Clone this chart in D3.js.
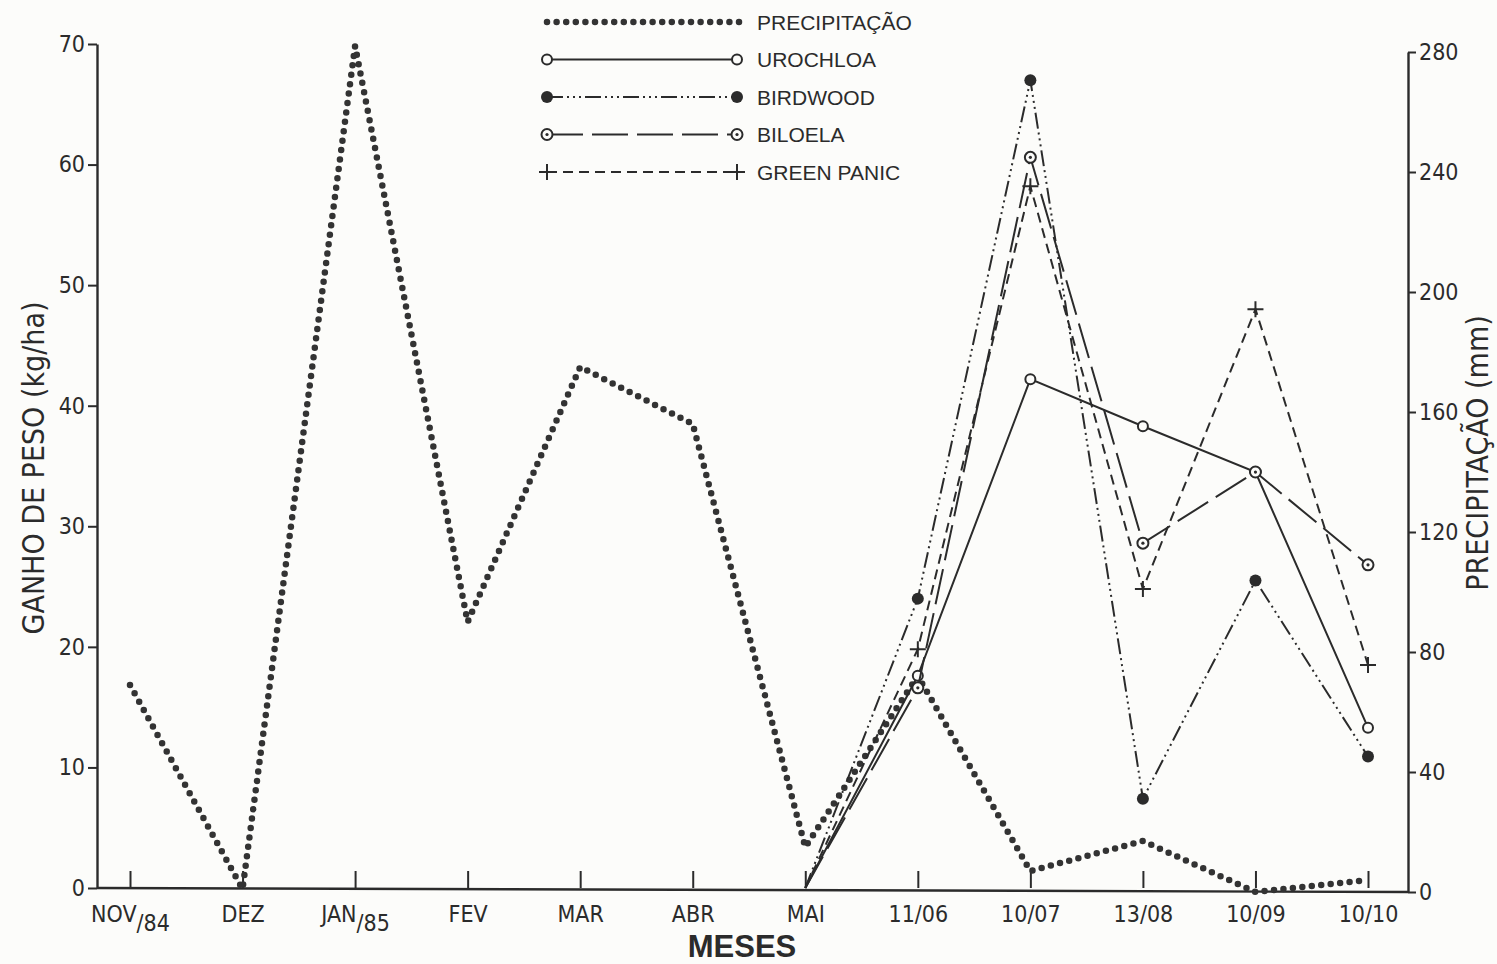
<!DOCTYPE html>
<html lang="pt">
<head>
<meta charset="utf-8">
<title>Ganho de peso e precipitação</title>
<script src="https://cdn.jsdelivr.net/npm/d3@7"></script>
<style>
  body { margin: 0; background: #fcfcfa; }
  svg { display: block; }
</style>
</head>
<body>
<svg id="chart"></svg>
<script>
// categories on the x axis (main label + small suffix)
const meses = ['NOV', 'DEZ', 'JAN', 'FEV', 'MAR', 'ABR', 'MAI', '11/06', '10/07', '13/08', '10/09', '10/10'];
const sufixos = ['/84', '', '/85', '', '', '', '', '', '', '', '', ''];

// rainfall, mm (right axis)
const precipitacao = [69, 1, 282, 90, 175, 156, 15, 72, 7, 17, 0, 4];

// weight gain, kg/ha (left axis), from MAI onward
const mesesPastejo = ['MAI', '11/06', '10/07', '13/08', '10/09', '10/10'];
const urochloa   = [0, 17.6, 42.2, 38.3, 34.5, 13.3];
const birdwood   = [0, 24.0, 67.0,  7.4, 25.5, 10.9];
const biloela    = [0, 16.6, 60.6, 28.6, 34.5, 26.8];
const greenPanic = [0, 19.8, 58.2, 24.8, 48.0, 18.5];

const ticksEsq = [0, 10, 20, 30, 40, 50, 60, 70];
const ticksDir = [0, 40, 80, 120, 160, 200, 240, 280];

const W = 1497, H = 964;
const ink = '#2b2b2b';
const fonteEixo = '"DejaVu Sans Condensed", "DejaVu Sans", sans-serif';

const svg = d3.select('#chart').attr('width', W).attr('height', H);

const xLeft = 97, xRight = 1408;
const x = d3.scalePoint().domain(meses).range([130, 1368]);
const yL = d3.scaleLinear().domain([0, 70]).range([888, 44]);
const yR = d3.scaleLinear().domain([0, 280]).range([892, 52]);

// ---- axes
const axL = svg.append('g')
  .attr('transform', 'translate(' + xLeft + ',0)')
  .call(d3.axisLeft(yL).tickValues(ticksEsq).tickSize(9).tickPadding(3).tickSizeOuter(0));
axL.select('.domain').attr('stroke', ink).attr('stroke-width', 2.4);
axL.selectAll('.tick line').attr('stroke', ink).attr('stroke-width', 2);
axL.selectAll('text').attr('fill', ink).style('font-family', fonteEixo).style('font-size', '23px');

const axR = svg.append('g')
  .attr('transform', 'translate(' + xRight + ',0)')
  .call(d3.axisRight(yR).tickValues(ticksDir).tickSize(8).tickPadding(3).tickSizeOuter(0));
axR.select('.domain').attr('stroke', ink).attr('stroke-width', 2.4);
axR.selectAll('.tick line').attr('stroke', ink).attr('stroke-width', 2);
axR.selectAll('text').attr('fill', ink).style('font-family', fonteEixo).style('font-size', '23px');

const axB = svg.append('g')
  .attr('transform', 'translate(0,' + yL(0) + ')')
  .call(d3.axisBottom(x).tickSize(-17).tickSizeOuter(0).tickPadding(30).tickFormat(''));
axB.select('.domain').remove();
axB.append('line')
  .attr('x1', xLeft).attr('x2', xRight)
  .attr('y1', 0).attr('y2', yR(0) - yL(0))
  .attr('stroke', ink).attr('stroke-width', 2.4);
axB.selectAll('.tick line').attr('stroke', ink).attr('stroke-width', 2);
axB.selectAll('.tick').each(function (d, i) {
  const t = d3.select(this).append('text')
    .attr('y', 34)
    .attr('fill', ink)
    .attr('text-anchor', 'middle')
    .style('font-family', fonteEixo)
    .style('font-size', '23px');
  t.append('tspan').text(d);
  if (sufixos[i]) t.append('tspan').attr('dy', 9).text(sufixos[i]);
});

// axis titles
svg.append('text')
  .attr('transform', 'translate(44,468) rotate(-90)')
  .attr('text-anchor', 'middle')
  .attr('fill', ink)
  .style('font-family', fonteEixo).style('font-size', '30px')
  .text('GANHO DE PESO (kg/ha)');
svg.append('text')
  .attr('transform', 'translate(1488,453) rotate(-90)')
  .attr('text-anchor', 'middle')
  .attr('fill', ink)
  .style('font-family', fonteEixo).style('font-size', '30px')
  .text('PRECIPITAÇÃO (mm)');
svg.append('text')
  .attr('x', 742).attr('y', 957)
  .attr('text-anchor', 'middle')
  .attr('fill', ink)
  .style('font-family', '"Liberation Sans", Arial, sans-serif')
  .style('font-size', '31px').style('font-weight', 'bold')
  .text('MESES');

// ---- rainfall as round dots
const linhaP = d3.line().x((d, i) => x(meses[i])).y(d => yR(d));
svg.append('path')
  .attr('d', linhaP(precipitacao))
  .attr('fill', 'none')
  .attr('stroke', '#333')
  .attr('stroke-width', 6.5)
  .attr('stroke-linecap', 'round')
  .attr('stroke-dasharray', '0 9.5');

// ---- weight gain series
const series = [
  { nome: 'UROCHLOA', valores: urochloa, dash: null, marca: 'aberto' },
  { nome: 'BIRDWOOD', valores: birdwood, dash: '16 4 2 4 2 4 2 4', marca: 'cheio' },
  { nome: 'BILOELA', valores: biloela, dash: '36 9', marca: 'duplo' },
  { nome: 'GREEN PANIC', valores: greenPanic, dash: '10 6', marca: 'cruz' }
];

function desenhaMarca(g, tipo, cx, cy) {
  if (tipo === 'aberto') {
    g.append('circle').attr('cx', cx).attr('cy', cy).attr('r', 5)
      .attr('fill', '#fcfcfa').attr('stroke', ink).attr('stroke-width', 2);
  } else if (tipo === 'cheio') {
    g.append('circle').attr('cx', cx).attr('cy', cy).attr('r', 6).attr('fill', ink);
  } else if (tipo === 'duplo') {
    g.append('circle').attr('cx', cx).attr('cy', cy).attr('r', 5.5)
      .attr('fill', '#fcfcfa').attr('stroke', ink).attr('stroke-width', 2);
    g.append('circle').attr('cx', cx).attr('cy', cy).attr('r', 1.6).attr('fill', ink);
  } else {
    g.append('path')
      .attr('d', 'M' + (cx - 8) + ',' + cy + 'H' + (cx + 8) + 'M' + cx + ',' + (cy - 8) + 'V' + (cy + 8))
      .attr('stroke', ink).attr('stroke-width', 2);
  }
}

const linhaS = d3.line().x((d, i) => x(mesesPastejo[i])).y(d => yL(d));
series.forEach(s => {
  const g = svg.append('g');
  g.append('path')
    .attr('d', linhaS(s.valores))
    .attr('fill', 'none')
    .attr('stroke', ink)
    .attr('stroke-width', 2)
    .attr('stroke-dasharray', s.dash);
  s.valores.forEach((v, i) => {
    if (i === 0) return;
    desenhaMarca(g, s.marca, x(mesesPastejo[i]), yL(v));
  });
});

// ---- legend
const leg = svg.append('g').attr('transform', 'translate(547,0)');
const linhasLeg = [{ nome: 'PRECIPITAÇÃO', marca: null }].concat(series);
const yLeg = d3.scalePoint().domain(linhasLeg.map(d => d.nome)).range([22, 172]);
linhasLeg.forEach(s => {
  const yy = yLeg(s.nome);
  if (!s.marca) {
    leg.append('line').attr('x1', 0).attr('x2', 193).attr('y1', yy).attr('y2', yy)
      .attr('stroke', '#333').attr('stroke-width', 6.5)
      .attr('stroke-linecap', 'round').attr('stroke-dasharray', '0 9.6');
  } else {
    leg.append('line').attr('x1', 0).attr('x2', 190).attr('y1', yy).attr('y2', yy)
      .attr('stroke', ink).attr('stroke-width', 2).attr('stroke-dasharray', s.dash);
    desenhaMarca(leg, s.marca, 0, yy);
    desenhaMarca(leg, s.marca, 190, yy);
  }
  leg.append('text')
    .attr('x', 210).attr('y', yy).attr('dy', '0.36em')
    .attr('fill', ink)
    .style('font-family', '"Liberation Sans", Arial, sans-serif')
    .style('font-size', '21px')
    .text(s.nome);
});
</script>
</body>
</html>
